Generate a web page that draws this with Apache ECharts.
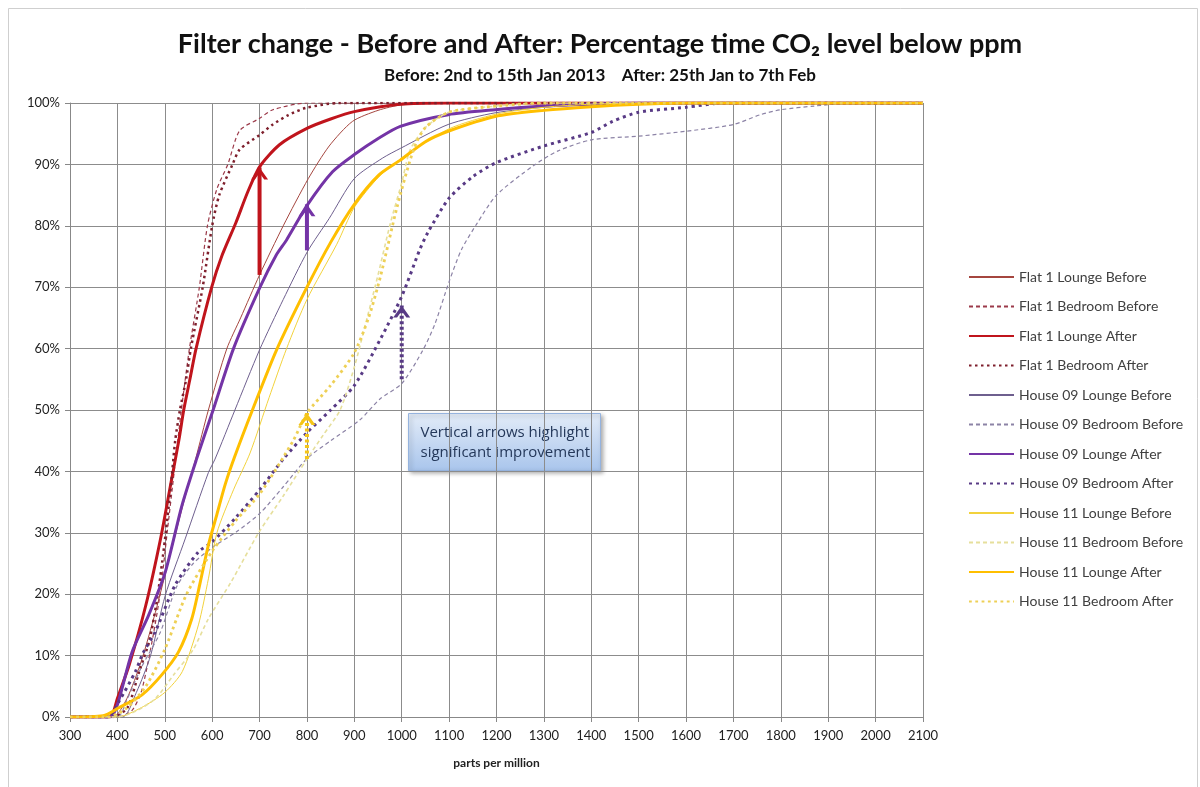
<!DOCTYPE html>
<html>
<head>
<meta charset="utf-8">
<script src="https://cdn.jsdelivr.net/npm/echarts@6/dist/echarts.min.js"></script>
<style>html,body{margin:0;padding:0;background:#fff}#c{width:1200px;height:787px}</style>
</head>
<body>
<div id="c"></div>
<script>
// ---- data: [ppm, % of time below] ----
const seriesNames = ['Flat 1 Lounge Before','Flat 1 Bedroom Before','Flat 1 Lounge After','Flat 1 Bedroom After',
  'House 09 Lounge Before','House 09 Bedroom Before','House 09 Lounge After','House 09 Bedroom After',
  'House 11 Lounge Before','House 11 Bedroom Before','House 11 Lounge After','House 11 Bedroom After'];

const flat1LoungeBefore = [[300,0],[390,0],[420,3],[450,9],[480,17],[510,26],[540,35],[565,42],[592,50],[631,60],[660,65],[700,72],[750,80],[803,87.7],[847,93],[896,97],[950,98.8],[1000,99.7],[1100,100],[2100,100]];
const flat1BedroomBefore = [[300,0],[400,0],[430,1],[450,4],[470,11],[490,20],[505,30],[520,40],[535,50],[552,60],[573,70],[590,80],[610,86],[633,90],[658,95.5],[700,97.5],[728,98.9],[800,100],[2100,100]];
const flat1LoungeAfter = [[300,0],[380,0],[390,0.5],[400,3],[425,8.5],[460,18.2],[491,29],[512,37.7],[530,45.2],[540,50],[553,55],[566,60],[599,70],[620,75],[650,80.5],[675,85.5],[700,89.6],[742,93.2],[801,95.9],[850,97.4],[900,98.6],[997,99.8],[1100,100],[2100,100]];
const flat1BedroomAfter = [[300,0],[390,0],[421,1.5],[446,7.4],[467,12.3],[484,19.3],[498,27.4],[512,37],[522,45],[532,50],[545,55],[555,60],[580,70],[600,80],[615,85],[643,90],[658,92.4],[700,94.8],[728,96.5],[760,98],[798,99.2],[868,100],[2100,100]];
const house09LoungeBefore = [[300,0],[410,0],[440,4],[470,10],[501,19.8],[543,29],[592,39.8],[606,42],[648,50],[700,59.8],[750,68],[801,75.8],[847,81.2],[900,87.7],[959,91],[997,92.6],[1098,96.5],[1197,98.4],[1300,99.3],[1400,99.8],[1500,100],[2100,100]];
const house09BedroomBefore = [[300,0],[400,0],[420,2.8],[450,8],[490,13.7],[525,21.2],[560,25],[602,27.7],[652,30.2],[701,33.2],[750,37.5],[799,42],[850,45],[912,48.4],[954,51.8],[1000,54.3],[1045,59.8],[1070,64],[1100,70.9],[1126,76.1],[1159,80.4],[1200,85],[1278,89.8],[1330,92.2],[1400,94],[1500,94.6],[1600,95.4],[1700,96.5],[1757,98.1],[1800,98.9],[1870,99.5],[1950,100],[2100,100]];
const house09LoungeAfter = [[300,0],[385,0],[400,2],[431,10.6],[466,16.6],[501,23.6],[536,34.4],[567,42],[602,50],[645,60],[701,70],[735,75.2],[757,77.7],[801,83.4],[854,88.8],[900,91.6],[952,94.3],[997,96.2],[1098,98.1],[1197,98.9],[1300,99.5],[1400,99.8],[1500,100],[2100,100]];
const house09BedroomAfter = [[300,0],[380,0],[403,2.5],[438,7.4],[454,10.4],[480,13.9],[522,21.5],[571,26.9],[600,28.5],[650,32.5],[700,37],[750,42],[800,46.3],[850,50],[900,54],[954,61.4],[1000,68.5],[1038,76.1],[1055,78.9],[1100,84.5],[1150,88],[1200,90.3],[1300,93],[1400,95.2],[1445,97],[1500,98.5],[1600,99.3],[1680,100],[2100,100]];
const house11LoungeBefore = [[300,0],[400,0],[450,1.5],[500,4],[537,7.4],[571,15],[592,22.5],[610,30],[645,37],[680,43],[720,52],[757,60],[800,68],[863,77],[900,83],[952,88],[1000,91],[1100,95.8],[1200,98.2],[1300,99.3],[1400,99.8],[1500,100],[2100,100]];
const house11BedroomBefore = [[300,0],[400,0],[440,1],[480,3],[520,7],[560,11],[592,16],[640,22],[698,30],[750,36],[800,42],[835,46],[870,50],[900,57],[927,65],[950,72],[976,80.4],[1000,87],[1018,92.4],[1050,96],[1100,98.5],[1200,99.5],[1300,100],[2100,100]];
const house11LoungeAfter = [[300,0],[370,0.2],[403,1.5],[452,3.6],[494,6.9],[529,10.6],[557,16],[575,22],[592,28],[610,33],[628,38],[648,42.5],[685,50],[736,59.8],[800,70],[850,77.3],[900,83.5],[952,88.3],[997,90.7],[1050,93.7],[1098,95.4],[1197,97.8],[1300,98.8],[1400,99.4],[1500,99.8],[1600,100],[2100,100]];
const house11BedroomAfter = [[300,0],[380,0],[420,1.5],[460,5],[500,11],[546,20],[600,27],[650,32],[701,36.4],[771,45],[800,49.5],[850,54],[899,59.2],[930,65],[955,71.7],[990,83],[1025,92.4],[1050,96],[1100,98.5],[1200,99.5],[1300,100],[2100,100]];

// arrows: x position (ppm), from %, to %
const arrowX = [700, 800, 1000, 800];
const arrowFrom = [72, 76, 55, 42];
const arrowTo = [89.5, 83.5, 67, 49.5];

const xTicks = {min: 300, max: 2100, interval: 100};
const yTicks = {min: 0, max: 100, interval: 10};

const FONT = 'Lato, "Open Sans", sans-serif';
const allData = [flat1LoungeBefore, flat1BedroomBefore, flat1LoungeAfter, flat1BedroomAfter,
  house09LoungeBefore, house09BedroomBefore, house09LoungeAfter, house09BedroomAfter,
  house11LoungeBefore, house11BedroomBefore, house11LoungeAfter, house11BedroomAfter];
const styles = [
  {color:'#a5463f', width:1, type:'solid'},
  {color:'#9c3a4a', width:1.2, type:[4,3]},
  {color:'#c0141c', width:3, type:'solid'},
  {color:'#7e1f2c', width:2.5, type:[2.5,3.5]},
  {color:'#6e5f8e', width:1, type:'solid'},
  {color:'#8c83a6', width:1.2, type:[4,3]},
  {color:'#7434a6', width:3, type:'solid'},
  {color:'#583a85', width:3, type:[3,4]},
  {color:'#f2d23c', width:1, type:'solid'},
  {color:'#e6df9c', width:1.6, type:[4,3]},
  {color:'#ffbf00', width:3, type:'solid'},
  {color:'#eed056', width:2.8, type:[2.8,3.5]}
];
const arrowStyles = [
  {color:'#c0141c', width:4, type:'solid'},
  {color:'#7434a6', width:4, type:'solid'},
  {color:'#583a85', width:4, type:[3,2.5]},
  {color:'#f5c518', width:4, type:[3,2.5]}
];
const chevron = 'path://M0,12 L10,0 L20,12 L15.5,12 L10,5.5 L4.5,12 Z';

const series = allData.map((d, i) => ({
  name: seriesNames[i], type: 'line', data: d, symbol: 'none', showSymbol: false,
  smooth: 0.25, z: 2 + i, clip: true,
  lineStyle: {color: styles[i].color, width: styles[i].width, type: styles[i].type, cap: 'butt', join: 'round'},
  itemStyle: {color: styles[i].color}, emphasis: {disabled: true}, animation: false
}));
arrowX.forEach((x, i) => {
  series.push({
    name: 'arrow' + i, type: 'line', z: 30, animation: false, emphasis: {disabled: true},
    showSymbol: true,
    data: [
      {value: [x, arrowFrom[i]], symbol: 'none'},
      {value: [x, arrowTo[i]], symbol: chevron, symbolSize: [17, 12], symbolOffset: [0, '50%']}
    ],
    lineStyle: {color: arrowStyles[i].color, width: arrowStyles[i].width, type: arrowStyles[i].type},
    itemStyle: {color: arrowStyles[i].color}
  });
});

const chart = echarts.init(document.getElementById('c'), null, {renderer: 'canvas'});
chart.setOption({
  backgroundColor: '#fff',
  animation: false,
  title: [
    {text: 'Filter change - Before and After: Percentage time CO₂ level below ppm', left: 'center', top: 26,
     textStyle: {fontFamily: FONT, fontSize: 27, fontWeight: 'bold', color: '#111'}},
    {text: 'Before: 2nd to 15th Jan 2013    After: 25th Jan to 7th Feb', left: 'center', top: 62,
     textStyle: {fontFamily: FONT, fontSize: 17, fontWeight: 'bold', color: '#111'}}
  ],
  grid: {left: 70, right: 277, top: 103, bottom: 70, containLabel: false},
  legend: {
    orient: 'vertical', left: 963, top: 265, itemWidth: 45, itemHeight: 14, itemGap: 15.5,
    data: seriesNames, selectedMode: false,
    itemStyle: {opacity: 0},
    textStyle: {fontFamily: FONT, fontSize: 14, color: '#404040'}
  },
  xAxis: {
    type: 'value', min: xTicks.min, max: xTicks.max, interval: xTicks.interval,
    name: 'parts per million', nameLocation: 'middle', nameGap: 40,
    nameTextStyle: {fontFamily: FONT, fontSize: 12, fontWeight: 'bold', color: '#222'},
    axisLine: {lineStyle: {color: '#888', width: 1}},
    axisTick: {show: true, length: 5, lineStyle: {color: '#888'}},
    axisLabel: {fontFamily: FONT, fontSize: 13, color: '#222', margin: 12, formatter: v => String(v)},
    splitLine: {show: true, lineStyle: {color: '#8c8c8c', width: 1}}
  },
  yAxis: {
    type: 'value', min: yTicks.min, max: yTicks.max, interval: yTicks.interval,
    axisLine: {show: true, lineStyle: {color: '#888'}},
    axisTick: {show: true, length: 5, lineStyle: {color: '#888'}},
    axisLabel: {fontFamily: FONT, fontSize: 13, color: '#222', formatter: '{value}%', margin: 10},
    splitLine: {show: true, lineStyle: {color: '#8c8c8c', width: 1}}
  },
  series: series,
  graphic: [
    {type: 'rect', silent: true, z: -1, shape: {x: 8.5, y: 8.5, width: 1189, height: 790},
     style: {fill: 'none', stroke: '#cfcfcf', lineWidth: 1}},
    {type: 'group', left: 408, top: 413, z: 100, children: [
      {type: 'rect', shape: {x: 0, y: 0, width: 192, height: 57},
       style: {fill: new echarts.graphic.LinearGradient(0, 0, 0, 1, [
         {offset: 0, color: '#e3ecf8'}, {offset: 1, color: '#a9c5ec'}]),
         stroke: '#95b3de', lineWidth: 1, shadowBlur: 4, shadowOffsetX: 2, shadowOffsetY: 2, shadowColor: 'rgba(0,0,0,0.3)'}},
      {type: 'text', style: {x: 12, y: 9, text: 'Vertical arrows highlight\nsignificant improvement',
       fill: '#24385a', font: '15px "Open Sans", sans-serif', lineHeight: 20}}
    ]}
  ]
});
</script>
</body>
</html>
